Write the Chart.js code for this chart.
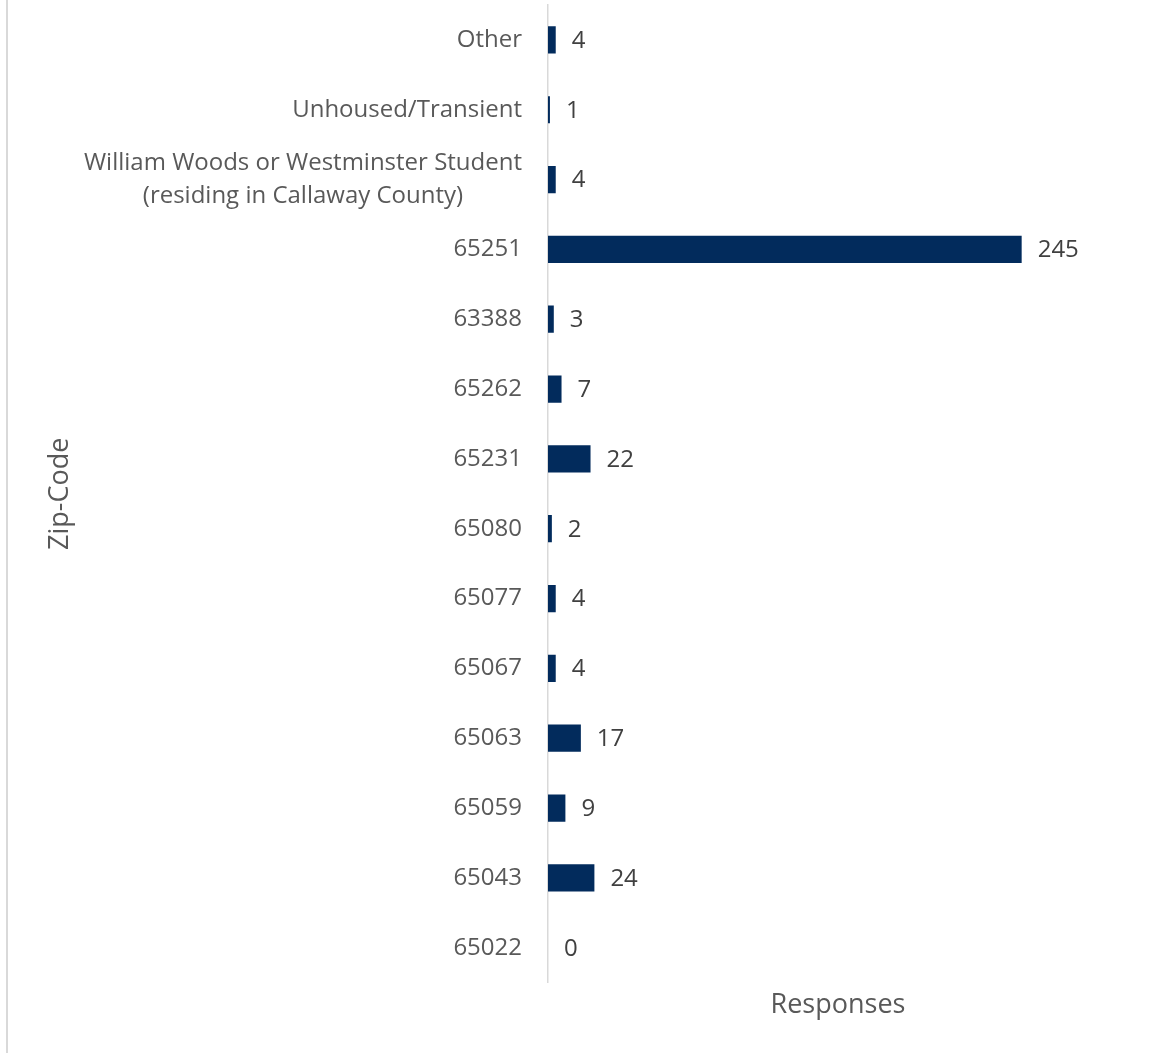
<!DOCTYPE html>
<html>
<head>
<meta charset="utf-8">
<title>Responses by Zip-Code</title>
<script src="https://cdn.jsdelivr.net/npm/chart.js@4"></script>
<style>
  html, body { margin: 0; padding: 0; background: #ffffff; overflow: hidden; }
  #wrap { position: relative; width: 1153px; height: 1053px; }
</style>
</head>
<body>
<div id="wrap"><canvas id="zipChart"></canvas></div>
<script>
// Categories listed top to bottom
var zipLabels = [
  'Other',
  'Unhoused/Transient',
  ['William Woods or Westminster Student', '(residing in Callaway County)'],
  '65251', '63388', '65262', '65231', '65080',
  '65077', '65067', '65063', '65059', '65043', '65022'
];
var responseCounts = [4, 1, 4, 245, 3, 7, 22, 2, 4, 4, 17, 9, 24, 0];
var xAxisMax = 300;

var fontFamily = "'Open Sans', 'Noto Sans', sans-serif";
var barColor = '#022b5c';
var tickPad = 26;
var tickLineHeight = 33;

// writes the count just past the end of each bar
var valueLabels = {
    id: 'valueLabels',
    afterDatasetsDraw: function(chart) {
        var ctx = chart.ctx;
        var meta = chart.getDatasetMeta(0);
        ctx.save();
        ctx.font = '24px ' + fontFamily;
        ctx.fillStyle = '#404040';
        ctx.textAlign = 'left';
        ctx.textBaseline = 'middle';
        meta.data.forEach(function(bar, i) {
            ctx.fillText(String(responseCounts[i]), bar.x + 16, bar.y + 1);
        });
        ctx.restore();
    }
};

// two-line category names: block sits right-aligned, lines centred on each other
var wrappedLabels = {
    id: 'wrappedLabels',
    afterDraw: function(chart) {
        var ctx = chart.ctx;
        var yScale = chart.scales.y;
        var right = yScale.right - tickPad;
        ctx.save();
        ctx.font = '24px ' + fontFamily;
        ctx.fillStyle = '#595959';
        ctx.textAlign = 'center';
        ctx.textBaseline = 'middle';
        zipLabels.forEach(function(lbl, i) {
            if (!Array.isArray(lbl)) return;
            var widest = 0;
            lbl.forEach(function(line) { widest = Math.max(widest, ctx.measureText(line).width); });
            var cx = right - widest / 2;
            var y0 = yScale.getPixelForTick(i) - (lbl.length - 1) * tickLineHeight / 2;
            lbl.forEach(function(line, k) { ctx.fillText(line, cx, y0 + k * tickLineHeight); });
        });
        ctx.restore();
    }
};

// thin grey frame line on the left side
var leftEdge = {
    id: 'leftEdge',
    beforeDraw: function(chart) {
        var ctx = chart.ctx;
        ctx.save();
        ctx.strokeStyle = '#d9d9d9';
        ctx.lineWidth = 2;
        ctx.beginPath();
        ctx.moveTo(7, 0);
        ctx.lineTo(7, chart.height);
        ctx.stroke();
        ctx.restore();
    }
};

var ctx = document.getElementById('zipChart').getContext('2d');
var zipChart = new Chart(ctx, {
    type: 'bar',
    data: {
        labels: zipLabels,
        datasets: [{
            label: 'Responses',
            data: responseCounts,
            backgroundColor: barColor,
            borderWidth: 0,
            barPercentage: 0.39,
            categoryPercentage: 1.0
        }]
    },
    options: {
        indexAxis: 'y',
        responsive: true,
        maintainAspectRatio: false,
        animation: false,
        layout: {
            padding: { left: 40, right: 25, top: 5, bottom: 27 }
        },
        scales: {
            x: {
                min: 0,
                max: xAxisMax,
                grid: { display: false, drawTicks: false },
                border: { display: false },
                ticks: { display: false },
                title: {
                    display: true,
                    text: 'Responses',
                    color: '#595959',
                    font: { family: fontFamily, size: 27 },
                    padding: { top: 7, bottom: 4 }
                }
            },
            y: {
                grid: { display: false, drawTicks: false },
                border: { display: true, color: '#d9d9d9', width: 1.5 },
                ticks: {
                    color: '#595959',
                    padding: tickPad,
                    autoSkip: false,
                    font: { family: fontFamily, size: 24, lineHeight: 1.375 },
                    callback: function(value, index) {
                        // wrapped names are drawn by the wrappedLabels plugin
                        return Array.isArray(zipLabels[index]) ? '' : this.getLabelForValue(value);
                    }
                },
                title: {
                    display: true,
                    text: 'Zip-Code',
                    color: '#595959',
                    font: { family: fontFamily, size: 27 },
                    padding: { top: 4, bottom: 4 }
                },
                afterFit: function(scale) {
                    scale.width = 508; // keeps the plot's left edge fixed
                    scale.paddingTop = 0;
                    scale.paddingBottom = 0;
                }
            }
        },
        plugins: {
            legend: { display: false },
            tooltip: { enabled: false }
        }
    },
    plugins: [leftEdge, valueLabels, wrappedLabels]
});
</script>
</body>
</html>
